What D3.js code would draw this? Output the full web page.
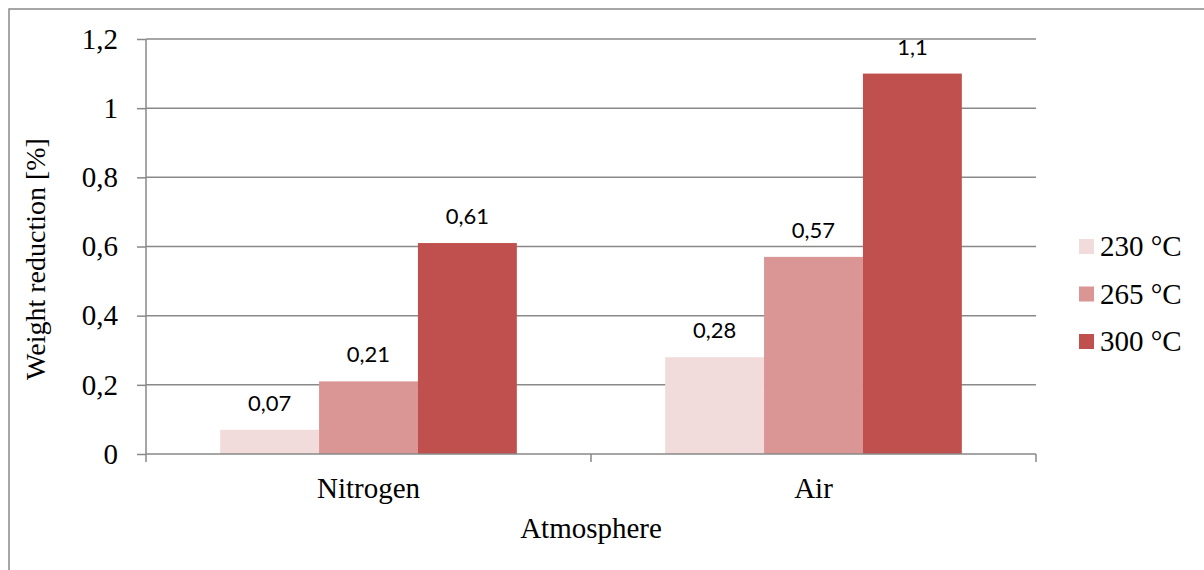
<!doctype html>
<html>
  <head>
    <meta charset="utf-8">
    <title>Weight reduction</title>
    <script src="https://d3js.org/d3.v7.min.js"></script>
    <style type="text/css">
      body { margin: 0; background-color: #ffffff; }
    </style>
  </head>
  <body>
    <script>
      // data
      var categories = ["Nitrogen", "Air"];
      var series = ["230 °C", "265 °C", "300 °C"];
      var values230 = [0.07, 0.28];
      var values265 = [0.21, 0.57];
      var values300 = [0.61, 1.1];
      var yTicks = [0, 0.2, 0.4, 0.6, 0.8, 1, 1.2];
      var colors = ["#F2DCDB", "#D99694", "#C0504D"];

      var allValues = [values230, values265, values300];

      var w = 1204, h = 570;
      var m = { left: 146, right: 1036, top: 39, bottom: 454 };
      var serif = "'Liberation Serif', 'Times New Roman', serif";

      var svg = d3.select("body").append("svg")
        .attr("width", w)
        .attr("height", h);

      // outer frame
      svg.append("rect")
        .attr("x", 9).attr("y", 9)
        .attr("width", w).attr("height", h)
        .attr("fill", "none")
        .attr("stroke", "#898989")
        .attr("stroke-width", 1.5);

      var x = d3.scaleBand().domain(categories).range([m.left, m.right]).paddingInner(0).paddingOuter(0);
      var y = d3.scaleLinear().domain([0, 1.2]).range([m.bottom, m.top]);
      var bw = x.bandwidth() / (3 + 1.5);
      var x1 = d3.scaleBand().domain(series).range([bw * 0.75, bw * 3.75]);

      var fmt = function(v) { return String(v).replace(".", ","); };

      // gridlines
      svg.append("g").selectAll("line").data(yTicks.slice(1)).enter().append("line")
        .attr("x1", m.left).attr("x2", m.right)
        .attr("y1", function(d) { return y(d); }).attr("y2", function(d) { return y(d); })
        .attr("stroke", "#898989").attr("stroke-width", 1.5);

      // bars
      var rows = [];
      categories.forEach(function(c, i) {
        series.forEach(function(s, j) {
          rows.push({ cat: c, ser: s, v: allValues[j][i], col: colors[j] });
        });
      });

      svg.append("g").selectAll("rect").data(rows).enter().append("rect")
        .attr("x", function(d) { return x(d.cat) + x1(d.ser); })
        .attr("width", x1.bandwidth())
        .attr("y", function(d) { return y(d.v); })
        .attr("height", function(d) { return y(0) - y(d.v); })
        .attr("fill", function(d) { return d.col; });

      // value labels
      svg.append("g").selectAll("text").data(rows).enter().append("text")
        .attr("x", function(d) { return x(d.cat) + x1(d.ser) + x1.bandwidth() / 2; })
        .attr("y", function(d) { return y(d.v) - 19; })
        .attr("text-anchor", "middle")
        .style("font-family", "Lato, 'Open Sans', sans-serif")
        .style("font-size", "22px")
        .attr("fill", "#000")
        .text(function(d) { return fmt(d.v); });

      // y axis
      var yAxis = svg.append("g")
        .attr("transform", "translate(" + m.left + ",0)")
        .call(d3.axisLeft(y).tickValues(yTicks).tickSize(9).tickPadding(19).tickFormat(fmt));
      yAxis.selectAll("line, path").attr("stroke", "#898989").attr("stroke-width", 1.5);
      yAxis.select(".domain").attr("d", "M0," + m.top + "V" + m.bottom);
      yAxis.selectAll("text")
        .style("font-family", serif)
        .style("font-size", "29px").attr("fill", "#000");

      // x axis
      var xAxis = svg.append("g")
        .attr("transform", "translate(0," + m.bottom + ")")
        .call(d3.axisBottom(x).tickSize(0).tickPadding(23));
      xAxis.select(".domain").attr("stroke", "#898989").attr("stroke-width", 1.5)
        .attr("d", "M" + m.left + ",0H" + m.right);
      xAxis.selectAll("text")
        .style("font-family", serif)
        .style("font-size", "29px").attr("fill", "#000");
      // x tick marks at category boundaries
      var bounds = categories.map(function(c) { return x(c); }).concat([m.right]);
      svg.append("g").selectAll("line").data(bounds).enter().append("line")
        .attr("x1", function(d) { return d; }).attr("x2", function(d) { return d; })
        .attr("y1", m.bottom).attr("y2", m.bottom + 8)
        .attr("stroke", "#898989").attr("stroke-width", 1.5);

      // axis titles
      svg.append("text")
        .attr("x", (m.left + m.right) / 2).attr("y", 538)
        .attr("text-anchor", "middle")
        .style("font-family", serif)
        .style("font-size", "29px")
        .text("Atmosphere");

      svg.append("text")
        .attr("transform", "translate(45,259) rotate(-90)")
        .attr("text-anchor", "middle")
        .style("font-family", serif)
        .style("font-size", "28px")
        .text("Weight reduction [%]");

      // legend
      var legend = svg.append("g").selectAll("g").data(series).enter().append("g")
        .attr("transform", function(d, i) { return "translate(1079," + (246 + i * 47.5) + ")"; });
      legend.append("rect")
        .attr("x", 0).attr("y", -7).attr("width", 15).attr("height", 15)
        .attr("fill", function(d, i) { return colors[i]; });
      legend.append("text")
        .attr("x", 21).attr("y", 10)
        .style("font-family", serif)
        .style("font-size", "29px")
        .text(function(d) { return d; });
    </script>
  </body>
</html>
